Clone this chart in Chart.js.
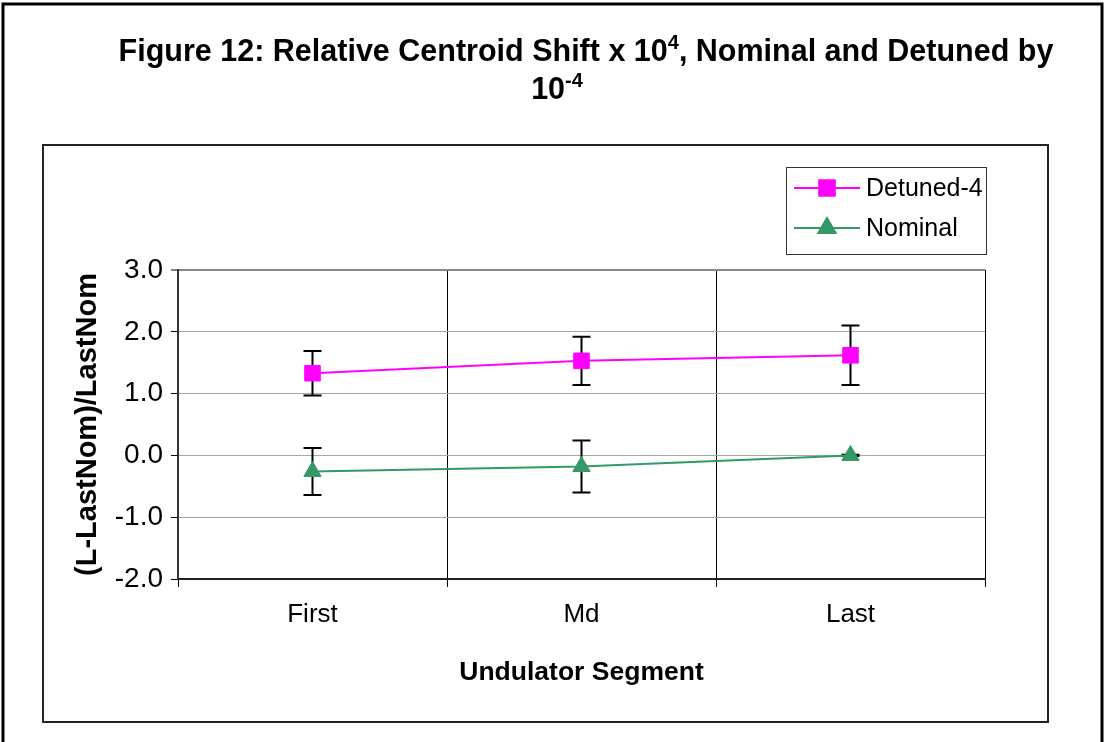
<!DOCTYPE html>
<html>
<head>
<meta charset="utf-8">
<script src="https://cdn.jsdelivr.net/npm/chart.js@4/dist/chart.umd.min.js"></script>
<style>
  body { margin: 0; background: #fff; }
  canvas { display: block; }
</style>
</head>
<body>
<canvas id="myChart" width="1106" height="742"></canvas>
<script>
  const categories = ['First', 'Md', 'Last'];
  const detuned = [1.33, 1.53, 1.62];
  const detunedErr = [0.36, 0.39, 0.48];
  const nominal = [-0.26, -0.18, 0.0];
  const nominalErr = [0.38, 0.42, 0.01];
  const yTicks = [-2, -1, 0, 1, 2, 3];

  // title pieces: [text, superscript?]
  const titleLine1 = [['Figure 12: Relative Centroid Shift x 10', false], ['4', true], [', Nominal and Detuned by', false]];
  const titleLine2 = [['10', false], ['-4', true]];
  const fontName = '"Liberation Sans", Arial, sans-serif';

  let ctx = document.getElementById('myChart').getContext('2d');

  function drawRichLine(c, parts, cx, cy) {
      const bigFont = 'bold 30.5px ' + fontName;
      const smallFont = 'bold 20px ' + fontName;
      let total = 0;
      parts.forEach(p => {
          c.font = p[1] ? smallFont : bigFont;
          total += c.measureText(p[0]).width;
      });
      let px = cx - total / 2;
      c.textAlign = 'left';
      c.textBaseline = 'alphabetic';
      parts.forEach(p => {
          c.font = p[1] ? smallFont : bigFont;
          c.fillText(p[0], px, p[1] ? cy - 1 : cy + 11);
          px += c.measureText(p[0]).width;
      });
  }

  // frames + title drawn behind the chart
  const framePlugin = {
      id: 'frames',
      beforeDraw(chart) {
          const c = chart.ctx;
          c.save();
          c.fillStyle = '#fff';
          c.fillRect(0, 0, chart.width, chart.height);
          c.strokeStyle = '#000';
          c.lineWidth = 3;
          c.strokeRect(3, 4, 1099, 760);
          c.lineWidth = 2;
          c.strokeStyle = '#222';
          c.strokeRect(43, 145, 1005, 577);

          c.fillStyle = '#000';
          drawRichLine(c, titleLine1, 586, 50);
          drawRichLine(c, titleLine2, 557, 88);
          c.restore();
      }
  };

  // vertical error bars, drawn before the markers
  const errorBarPlugin = {
      id: 'errorBars',
      beforeDatasetsDraw(chart) {
          const c = chart.ctx;
          const x = chart.scales.x;
          const y = chart.scales.y;
          c.save();
          c.strokeStyle = '#000';
          c.lineWidth = 2;
          chart.data.datasets.forEach(ds => {
              ds.data.forEach((v, i) => {
                  const px = x.getPixelForValue(i);
                  const top = y.getPixelForValue(v + ds.errors[i]);
                  const bot = y.getPixelForValue(v - ds.errors[i]);
                  c.beginPath();
                  c.moveTo(px, top); c.lineTo(px, bot);
                  c.moveTo(px - 9, top); c.lineTo(px + 9, top);
                  c.moveTo(px - 9, bot); c.lineTo(px + 9, bot);
                  c.stroke();
              });
          });
          c.restore();
      }
  };

  // boxed legend with line + marker, like the original
  const legendPlugin = {
      id: 'boxLegend',
      afterDraw(chart) {
          const c = chart.ctx;
          c.save();
          c.strokeStyle = '#333';
          c.lineWidth = 1;
          c.strokeRect(786.5, 167.5, 200, 87);
          c.font = '25px ' + fontName;
          c.textAlign = 'left';
          c.textBaseline = 'middle';
          chart.data.datasets.forEach((ds, i) => {
              const ly = 188 + i * 40;
              c.strokeStyle = ds.borderColor;
              c.lineWidth = 2;
              c.beginPath();
              c.moveTo(794, ly); c.lineTo(860, ly);
              c.stroke();
              c.fillStyle = ds.backgroundColor;
              c.strokeStyle = ds.borderColor;
              Chart.helpers.drawPoint(c, {
                  pointStyle: ds.pointStyle,
                  radius: ds.pointRadius,
                  rotation: 0,
                  borderWidth: 1
              }, 827, ly);
              c.fillStyle = '#000';
              c.fillText(ds.label, 866, ly + 1);
          });
          c.restore();
      }
  };

  let myChart = new Chart(ctx, {
      type: 'line',
      data: {
          labels: categories,
          datasets: [{
              label: 'Detuned-4',
              data: detuned,
              errors: detunedErr,
              borderColor: '#ff00ff',
              backgroundColor: '#ff00ff',
              borderWidth: 2,
              pointStyle: 'rect',
              pointRadius: 11,
              pointBorderWidth: 1,
          }, {
              label: 'Nominal',
              data: nominal,
              errors: nominalErr,
              borderColor: '#339966',
              backgroundColor: '#339966',
              borderWidth: 2,
              pointStyle: 'triangle',
              pointRadius: 10,
              pointBorderWidth: 1,
          }]
      },
      options: {
          responsive: false,
          animation: false,
          devicePixelRatio: 1,
          layout: {
              padding: { left: 45, right: 121, top: 270, bottom: 42 }
          },
          scales: {
              x: {
                  offset: true,
                  grid: {
                      offset: true,
                      color: c => c.index === categories.length ? '#888' : '#000',
                      lineWidth: c => c.index === categories.length ? 2 : 1,
                      tickLength: 8,
                      tickColor: '#000',
                      tickWidth: 1,
                  },
                  border: { color: '#222', width: 2 },
                  ticks: {
                      color: '#000',
                      padding: 12,
                      font: { family: fontName, size: 26 },
                  },
                  title: {
                      display: true,
                      text: 'Undulator Segment',
                      color: '#000',
                      font: { family: fontName, size: 26.5, weight: 'bold' },
                      padding: { top: 0, bottom: 11 },
                  },
                  afterFit: s => { s.height = 121; },
              },
              y: {
                  min: yTicks[0],
                  max: yTicks[yTicks.length - 1],
                  afterBuildTicks: s => { s.ticks = yTicks.map(v => ({ value: v })); },
                  grid: {
                      color: c => c.index === yTicks.length - 1 ? '#888' : '#a6a6a6',
                      lineWidth: c => c.index === yTicks.length - 1 ? 2 : 1,
                      tickLength: 7,
                      tickColor: '#000',
                      tickWidth: 1,
                  },
                  border: { color: '#333', width: 2 },
                  ticks: {
                      color: '#000',
                      padding: 8,
                      font: { family: fontName, size: 28 },
                      callback: v => v.toFixed(1),
                  },
                  title: {
                      display: true,
                      text: '(L-LastNom)/LastNom',
                      color: '#000',
                      font: { family: fontName, size: 29, weight: 'bold' },
                      padding: { top: 26, bottom: 0 },
                  },
                  afterFit: s => { s.width = 133; },
              }
          },
          plugins: {
              legend: { display: false },
              title: { display: false },
              tooltip: { enabled: false },
          }
      },
      plugins: [framePlugin, errorBarPlugin, legendPlugin]
  });
</script>
</body>
</html>
